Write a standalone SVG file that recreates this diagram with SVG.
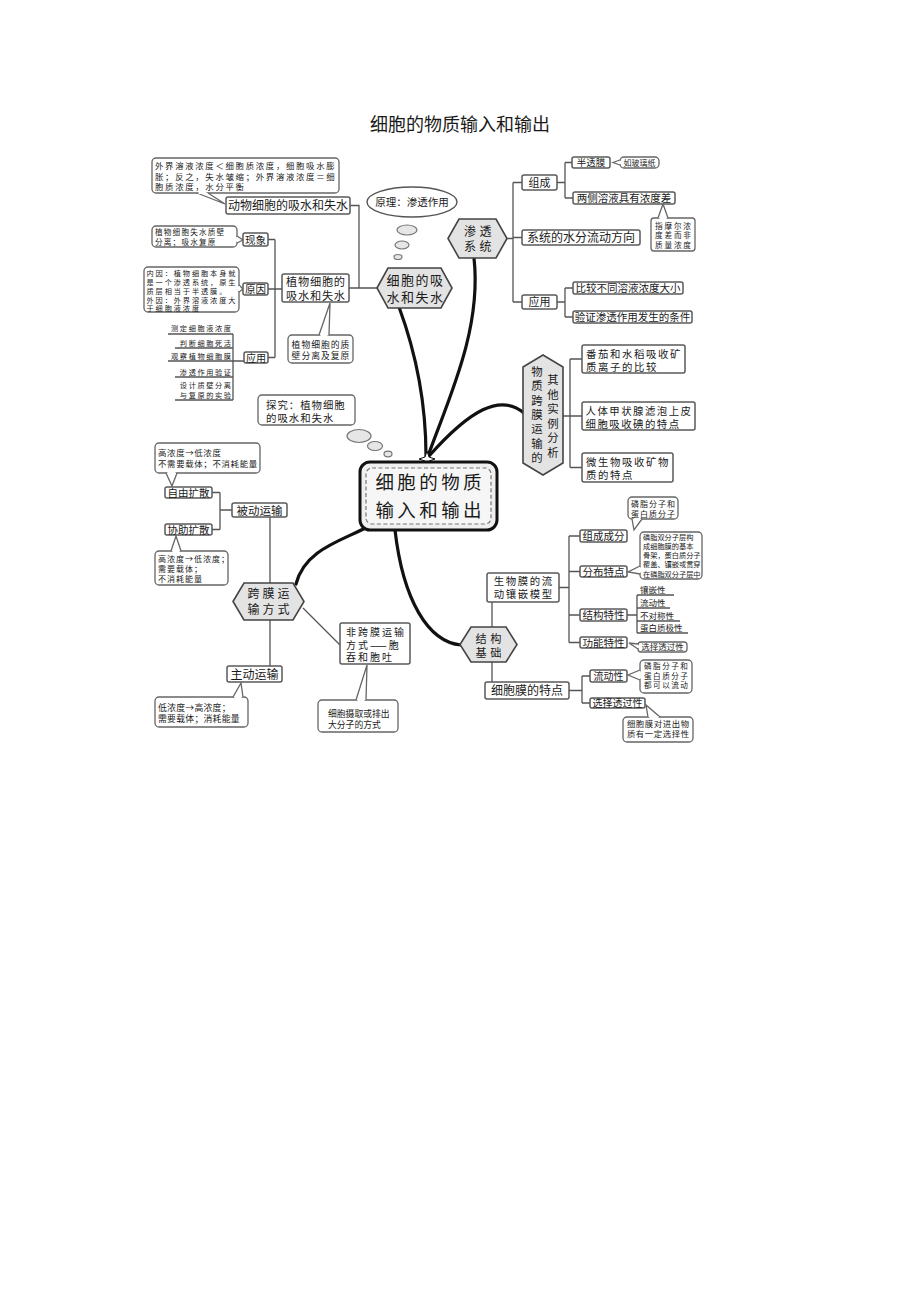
<svg xmlns="http://www.w3.org/2000/svg" width="920" height="1302" viewBox="0 0 920 1302">
<style>
text{font-family:"Noto Sans CJK SC","Noto Sans",sans-serif;fill:#1a1a1a}
.c{text-anchor:middle}
.box{fill:#fff;stroke:#5a5a5a;stroke-width:1.5}
.co{fill:#fff;stroke:#666;stroke-width:1.3}
.tail{fill:#fff;stroke:#666;stroke-width:1.3}
.cov{stroke:#fff;stroke-width:2}
.hex{fill:#e3e3e3;stroke:#444;stroke-width:1.6}
.ln{stroke:#555;stroke-width:1.3;fill:none}
.cv{stroke:#111;stroke-width:3.2;fill:none;stroke-linecap:round}
.bub{fill:#e6e6e6;stroke:#777;stroke-width:1.2}
</style>
<rect width="920" height="1302" fill="#fff"/>
<text x="460" y="131" class="c" font-size="18">细胞的物质输入和输出</text>

<g id="connectors">
<path class="ln" d="M350,205.5H359V288M349,288H377"/>
<path class="ln" d="M268,239.5H275M268,289H282M268,357.5H275M275,239.5V357.5"/>
<path class="ln" d="M168,334H233M175,348H233M168,361H244M175,377H233M175,400H233M233,334V400"/>
<path class="ln" d="M507,238.5H513M513,182.5V302M513,182.5H522M513,237.5H522M513,302H522"/>
<path class="ln" d="M557,182.5H565M565,162.5V198M565,162.5H572M565,198H573"/>
<path class="ln" d="M557,302H565M565,288V317M565,288H573M565,317H573"/>
<path class="ln" d="M563,416H570M570,359V467.5M570,359H582M570,416H582M570,467.5H582"/>
<path class="ln" d="M212,492.5H220M212,529.5H220M220,492.5V529.5M220,510H232"/>
<path class="ln" d="M270,517V583M270,620V666M303,608L340,645"/>
<path class="ln" d="M492,602V627M492,662V682"/>
<path class="ln" d="M559,587.5H569M569,536V642.5M569,536H580M569,571.5H580M569,615H580M569,642.5H580"/>
<path class="ln" d="M627,615H637M637,595V633M637,595H674M637,608H670M637,621H680M637,633H688"/>
<path class="ln" d="M569,690.5H582M582,676V703M582,676H590M582,703H590"/>
<path class="cv" d="M399,307C413,345 426,395 426,456"/>
<path class="cv" d="M474,258C482,330 448,400 428,456"/>
<path class="cv" d="M524,413C500,393 470,410 429,456"/>
<path class="cv" d="M371,525C345,540 305,548 296,584"/>
<path class="cv" d="M395,530C403,600 428,642 461,645"/>
<path d="M427,451L429,457L435,459L429,461L427,467L425,461L419,459L425,457Z" fill="#fff" stroke="#111" stroke-width="1"/>
</g>

<g id="n-waijie">
<rect class="co" x="152" y="158" width="187" height="35" rx="4"/>
<path class="tail" d="M197,193L225,204L208,193"/><line class="cov" x1="198.5" y1="193" x2="206.5" y2="193"/>
<text font-size="8.4" letter-spacing="1.7"><tspan x="155" y="169">外界溶液浓度＜细胞质浓度，细胞吸水膨</tspan><tspan x="155" y="179.5">胀；反之，失水皱缩；外界溶液浓度＝细</tspan><tspan x="155" y="190">胞质浓度，水分平衡</tspan></text>
</g>
<g id="n-dongwu">
<rect class="box" x="226" y="197" width="124" height="17" rx="2"/>
<text x="288" y="210" class="c" font-size="12">动物细胞的吸水和失水</text>
</g>
<g id="n-shishui">
<rect class="co" x="152" y="226" width="85" height="21" rx="4"/>
<path class="tail" d="M237,236L243,240L237,243"/><line class="cov" x1="237" y1="237.2" x2="237" y2="241.8"/>
<text font-size="7.6" letter-spacing="1.2"><tspan x="155" y="235">植物细胞失水质壁</tspan><tspan x="155" y="244.5">分离；吸水复原</tspan></text>
</g>
<g id="n-xianxiang">
<rect class="box" x="243" y="233" width="25" height="13" rx="2"/>
<text x="255.5" y="243.5" class="c" font-size="10.5">现象</text>
</g>
<g id="n-neiyin">
<rect class="co" x="144" y="267" width="95" height="45" rx="4"/>
<path class="tail" d="M239,285L243,289L239,292"/><line class="cov" x1="239" y1="286.2" x2="239" y2="290.8"/>
<text font-size="7.2" letter-spacing="1.9"><tspan x="146.5" y="275.5">内因：植物细胞本身就</tspan><tspan x="146.5" y="284.5">是一个渗透系统，原生</tspan><tspan x="146.5" y="293.5">质层相当于半透膜。</tspan><tspan x="146.5" y="302.5">外因：外界溶液浓度大</tspan><tspan x="146.5" y="311.2">于细胞液浓度</tspan></text>
</g>
<g id="n-yuanyin">
<rect class="box" x="243" y="283" width="25" height="12" rx="2"/>
<text x="255.5" y="293" class="c" font-size="10.5">原因</text>
</g>
<g id="n-zhiwu">
<rect class="box" x="282" y="274" width="67" height="28" rx="2"/>
<text class="c" font-size="11.2" letter-spacing="0.8"><tspan x="315.9" y="285.5">植物细胞的</tspan><tspan x="315.9" y="299.5">吸水和失水</tspan></text>
</g>
<g id="n-zhibi">
<rect class="co" x="288" y="335" width="65" height="28" rx="4"/>
<path class="tail" d="M319,335L330,303L329,335"/><line class="cov" x1="320.5" y1="335" x2="327.5" y2="335"/>
<text class="c" font-size="8.8" letter-spacing="1"><tspan x="321" y="347.5">植物细胞的质</tspan><tspan x="321" y="358.5">壁分离及复原</tspan></text>
</g>
<g id="n-yingyong1">
<rect class="box" x="244" y="352" width="24" height="11" rx="2"/>
<text x="256" y="361.5" class="c" font-size="10">应用</text>
</g>
<g id="n-list">
<text text-anchor="end" font-size="7.2" letter-spacing="1.6"><tspan x="232.6" y="331">测定细胞液浓度</tspan><tspan x="232.6" y="345.5">判断细胞死活</tspan><tspan x="232.6" y="358.5">观察植物细胞膜</tspan><tspan x="232.6" y="374.5">渗透作用验证</tspan><tspan x="232.6" y="388.2">设计质壁分离</tspan><tspan x="232.6" y="397.5">与复原的实验</tspan></text>
</g>

<g id="n-yuanli">
<ellipse cx="412" cy="202" rx="45" ry="15" fill="#fff" stroke="#555" stroke-width="1.4"/>
<text x="412" y="206" class="c" font-size="10.5">原理：渗透作用</text>
<ellipse class="bub" cx="407" cy="230" rx="10" ry="5"/>
<ellipse class="bub" cx="402" cy="245" rx="7" ry="4"/>
<ellipse class="bub" cx="398" cy="257" rx="4" ry="2.5"/>
</g>
<g id="n-xibaoxishui">
<polygon class="hex" points="377,288 388,268 441,268 452,288 441,308 388,308"/>
<text class="c" font-size="13" letter-spacing="1.5"><tspan x="415.5" y="285">细胞的吸</tspan><tspan x="415.5" y="302">水和失水</tspan></text>
</g>
<g id="n-shentou">
<polygon class="hex" points="448,238.5 459,219 496,219 507,238.5 496,258 459,258"/>
<text class="c" font-size="12" letter-spacing="3.5"><tspan x="479.5" y="235.5">渗透</tspan><tspan x="479.5" y="251">系统</tspan></text>
</g>
<g id="n-zucheng">
<rect class="box" x="522" y="175" width="35" height="15" rx="2"/>
<text x="539.5" y="186.5" class="c" font-size="11">组成</text>
</g>
<g id="n-bantoumo">
<rect class="box" x="572" y="157" width="38" height="11" rx="2"/>
<text x="591" y="166" class="c" font-size="9.5">半透膜</text>
</g>
<g id="n-boli">
<rect class="co" x="620" y="157" width="39" height="11" rx="4"/>
<path class="tail" d="M620,160L613,162.5L620,165"/><line class="cov" x1="620" y1="161" x2="620" y2="164"/>
<text x="639.5" y="165.5" class="c" font-size="8">如玻璃纸</text>
</g>
<g id="n-liangce">
<rect class="box" x="573" y="192" width="102" height="12" rx="2"/>
<text x="624" y="202" class="c" font-size="10.5">两侧溶液具有浓度差</text>
</g>
<g id="n-moer">
<rect class="co" x="651" y="218" width="44" height="33" rx="3"/>
<path class="tail" d="M658,218L663,204L668,218"/><line class="cov" x1="659.5" y1="218" x2="666.5" y2="218"/>
<text class="c" font-size="7.6" letter-spacing="1.8"><tspan x="673.9" y="228.5">指摩尔浓</tspan><tspan x="673.9" y="238">度差而非</tspan><tspan x="673.9" y="247.5">质量浓度</tspan></text>
</g>
<g id="n-xitong">
<rect class="box" x="522" y="230" width="118" height="15" rx="2"/>
<text x="581" y="242" class="c" font-size="12">系统的水分流动方向</text>
</g>
<g id="n-yingyong2">
<rect class="box" x="522" y="295" width="35" height="14" rx="2"/>
<text x="539.5" y="306" class="c" font-size="11">应用</text>
</g>
<g id="n-bijiao">
<rect class="box" x="573" y="282" width="110" height="12" rx="2"/>
<text x="628" y="292" class="c" font-size="10.5">比较不同溶液浓度大小</text>
</g>
<g id="n-yanzheng">
<rect class="box" x="573" y="311" width="119" height="12" rx="2"/>
<text x="632.5" y="321" class="c" font-size="10.5">验证渗透作用发生的条件</text>
</g>

<g id="n-shili">
<polygon class="hex" points="543,355 563,367 563,463 543,475 523,463 523,367"/>
<text class="c" font-size="11.4"><tspan x="537" y="376">物</tspan><tspan x="537" y="390.3">质</tspan><tspan x="537" y="404.6">跨</tspan><tspan x="537" y="418.9">膜</tspan><tspan x="537" y="433.2">运</tspan><tspan x="537" y="447.5">输</tspan><tspan x="537" y="461.8">的</tspan></text>
<text class="c" font-size="11.4"><tspan x="553" y="384">其</tspan><tspan x="553" y="398.5">他</tspan><tspan x="553" y="413">实</tspan><tspan x="553" y="427.5">例</tspan><tspan x="553" y="442">分</tspan><tspan x="553" y="456.5">析</tspan></text>
</g>
<g id="n-fanqie">
<rect class="box" x="582" y="345" width="103" height="28" rx="2"/>
<text font-size="10.4" letter-spacing="1.6"><tspan x="586" y="357.5">番茄和水稻吸收矿</tspan><tspan x="586" y="370.5">质离子的比较</tspan></text>
</g>
<g id="n-jiazhuangxian">
<rect class="box" x="582" y="402" width="113" height="28" rx="2"/>
<text font-size="10.4" letter-spacing="1.5"><tspan x="585.5" y="414.5">人体甲状腺滤泡上皮</tspan><tspan x="585.5" y="427.5">细胞吸收碘的特点</tspan></text>
</g>
<g id="n-weishengwu">
<rect class="box" x="582" y="453" width="91" height="29" rx="2"/>
<text font-size="10.4" letter-spacing="1.6"><tspan x="586" y="465.5">微生物吸收矿物</tspan><tspan x="586" y="478.5">质的特点</tspan></text>
</g>

<g id="n-tanjiu">
<rect class="co" x="258" y="395" width="97" height="30" rx="4"/>
<text font-size="10.4" letter-spacing="1"><tspan x="266" y="409">探究：植物细胞</tspan><tspan x="266" y="422">的吸水和失水</tspan></text>
<ellipse class="bub" cx="359" cy="436" rx="12" ry="6.5"/>
<ellipse class="bub" cx="375" cy="446" rx="7.5" ry="4.5"/>
<ellipse class="bub" cx="388" cy="454" rx="4" ry="2.8"/>
</g>

<g id="n-center">
<rect x="360" y="462" width="137" height="68" rx="10" fill="#efefef" stroke="#111" stroke-width="3"/>
<rect x="366" y="468" width="125" height="56" rx="6" fill="#f6f6f6" stroke="#777" stroke-width="1.2" stroke-dasharray="4 2.5"/>
<text class="c" font-size="18.5" letter-spacing="3.4"><tspan x="430.2" y="489">细胞的物质</tspan><tspan x="430.2" y="517">输入和输出</tspan></text>
</g>

<g id="n-gaodi1">
<rect class="co" x="155" y="443" width="105" height="30" rx="4"/>
<path class="tail" d="M166,473L172,486L177,473"/><line class="cov" x1="167.5" y1="473" x2="175.5" y2="473"/>
<text font-size="8.4" letter-spacing="0.7"><tspan x="158" y="456">高浓度→低浓度</tspan><tspan x="158" y="467">不需要载体；不消耗能量</tspan></text>
</g>
<g id="n-ziyou">
<rect class="box" x="165" y="487" width="47" height="11" rx="2"/>
<text x="188.5" y="496.5" class="c" font-size="10.5">自由扩散</text>
</g>
<g id="n-xiezhu">
<rect class="box" x="165" y="524" width="47" height="11" rx="2"/>
<text x="188.5" y="533.5" class="c" font-size="10.5">协助扩散</text>
</g>
<g id="n-beidong">
<rect class="box" x="232" y="503" width="55" height="14" rx="2"/>
<text x="259.5" y="514.5" class="c" font-size="11.5">被动运输</text>
</g>
<g id="n-gaodi2">
<rect class="co" x="155" y="551" width="73" height="34" rx="4"/>
<path class="tail" d="M171,551L176,536L181,551"/><line class="cov" x1="172.5" y1="551" x2="179.5" y2="551"/>
<text font-size="8" letter-spacing="1"><tspan x="158" y="562">高浓度→低浓度；</tspan><tspan x="158" y="572">需要载体；</tspan><tspan x="158" y="582">不消耗能量</tspan></text>
</g>
<g id="n-kuamo">
<polygon class="hex" points="233,601.5 244,583 293,583 304,601.5 293,620 244,620"/>
<text class="c" font-size="12" letter-spacing="3"><tspan x="270" y="597.5">跨膜运</tspan><tspan x="270" y="613.5">输方式</tspan></text>
</g>
<g id="n-zhudong">
<rect class="box" x="227" y="666" width="55" height="16" rx="2"/>
<text x="254.5" y="678.5" class="c" font-size="12">主动运输</text>
</g>
<g id="n-digao">
<rect class="co" x="155" y="697" width="93" height="30" rx="4"/>
<path class="tail" d="M233,697L241,683L243,697"/><line class="cov" x1="234.5" y1="697" x2="241.5" y2="697"/>
<text font-size="8.8" letter-spacing="0.3"><tspan x="158" y="710.5">低浓度→高浓度；</tspan><tspan x="158" y="721.5">需要载体；消耗能量</tspan></text>
</g>
<g id="n-feikuamo">
<rect class="box" x="340" y="623" width="70" height="41" rx="2"/>
<text font-size="10" letter-spacing="2"><tspan x="346" y="635.5">非跨膜运输</tspan><tspan x="346" y="648.5">方式——胞</tspan><tspan x="346" y="661.2">吞和胞吐</tspan></text>
</g>
<g id="n-sheqv">
<rect class="co" x="318" y="700" width="80" height="32" rx="4"/>
<path class="tail" d="M356,700L367,665L366,700"/><line class="cov" x1="357.5" y1="700" x2="364.5" y2="700"/>
<text font-size="8.8"><tspan x="328" y="716.5">细胞摄取或排出</tspan><tspan x="328" y="727.5">大分子的方式</tspan></text>
</g>

<g id="n-jiegou">
<polygon class="hex" points="460,644.5 471,627 506,627 517,644.5 506,662 471,662"/>
<text class="c" font-size="11.2" letter-spacing="3.5"><tspan x="490.2" y="643">结构</tspan><tspan x="490.2" y="657">基础</tspan></text>
</g>
<g id="n-shengwumo">
<rect class="box" x="487" y="573" width="72" height="29" rx="2"/>
<text class="c" font-size="10.4" letter-spacing="1.6"><tspan x="523.8" y="585">生物膜的流</tspan><tspan x="523.8" y="598">动镶嵌模型</tspan></text>
</g>
<g id="n-zuchengchengfen">
<rect class="box" x="580" y="530" width="47" height="12" rx="2"/>
<text x="603.5" y="540" class="c" font-size="10.5">组成成分</text>
</g>
<g id="n-linzhi1">
<rect class="co" x="628" y="497" width="50" height="22" rx="4"/>
<path class="tail" d="M632,519L634,530L642,519"/><line class="cov" x1="633.5" y1="519" x2="640.5" y2="519"/>
<text class="c" font-size="8" letter-spacing="1"><tspan x="653.5" y="506.5">磷脂分子和</tspan><tspan x="653.5" y="516.5">蛋白质分子</tspan></text>
</g>
<g id="n-fenbu">
<rect class="box" x="580" y="566" width="47" height="11" rx="2"/>
<text x="603.5" y="575.5" class="c" font-size="10.5">分布特点</text>
</g>
<g id="n-linzhi2">
<rect class="co" x="640" y="532" width="62" height="47" rx="4"/>
<path class="tail" d="M640,566L628,572L640,574"/><line class="cov" x1="640" y1="567.5" x2="640" y2="572.5"/>
<text font-size="7.2"><tspan x="643" y="539.5">磷脂双分子层构</tspan><tspan x="643" y="548.8">成细胞膜的基本</tspan><tspan x="643" y="558">骨架，蛋白质分子</tspan><tspan x="643" y="567.3">覆盖、镶嵌或贯穿</tspan><tspan x="643" y="576.5">在磷脂双分子层中</tspan></text>
</g>
<g id="n-jiegoutexing">
<rect class="box" x="580" y="609" width="47" height="12" rx="2"/>
<text x="603.5" y="619" class="c" font-size="10.5">结构特性</text>
<text font-size="8.5"><tspan x="640" y="592.5">镶嵌性</tspan><tspan x="640" y="605.5">流动性</tspan><tspan x="640" y="618.5">不对称性</tspan><tspan x="640" y="630.5">蛋白质极性</tspan></text>
</g>
<g id="n-gongneng">
<rect class="box" x="580" y="637" width="47" height="11" rx="2"/>
<text x="603.5" y="646.5" class="c" font-size="10.5">功能特性</text>
</g>
<g id="n-xuanze1">
<rect class="co" x="638" y="642" width="49" height="10" rx="3"/>
<path class="tail" d="M638,644L629,643L638,649"/><line class="cov" x1="638" y1="645.2" x2="638" y2="647.8"/>
<text x="662.5" y="650" class="c" font-size="8.5">选择透过性</text>
</g>
<g id="n-tedian">
<rect class="box" x="485" y="682" width="84" height="17" rx="2"/>
<text x="527" y="695" class="c" font-size="12">细胞膜的特点</text>
</g>
<g id="n-liudong">
<rect class="box" x="590" y="670" width="37" height="12" rx="2"/>
<text x="608.5" y="680" class="c" font-size="10">流动性</text>
</g>
<g id="n-xuanze2">
<rect class="box" x="590" y="698" width="55" height="10" rx="2"/>
<text x="617.5" y="707" class="c" font-size="10">选择透过性</text>
</g>
<g id="n-linzhi3">
<rect class="co" x="640" y="660" width="52" height="33" rx="4"/>
<path class="tail" d="M640,670L628,675L640,680"/><line class="cov" x1="640" y1="671.5" x2="640" y2="678.5"/>
<text class="c" font-size="7.6" letter-spacing="1.5"><tspan x="666.7" y="669">磷脂分子和</tspan><tspan x="666.7" y="678.5">蛋白质分子</tspan><tspan x="666.7" y="688">都可以流动</tspan></text>
</g>
<g id="n-xuanzexing">
<rect class="co" x="623" y="717" width="70" height="25" rx="4"/>
<path class="tail" d="M648,717L646,705L660,717"/><line class="cov" x1="649.5" y1="717" x2="658.5" y2="717"/>
<text class="c" font-size="8.4" letter-spacing="0.6"><tspan x="658.3" y="726.5">细胞膜对进出物</tspan><tspan x="658.3" y="737">质有一定选择性</tspan></text>
</g>
</svg>
